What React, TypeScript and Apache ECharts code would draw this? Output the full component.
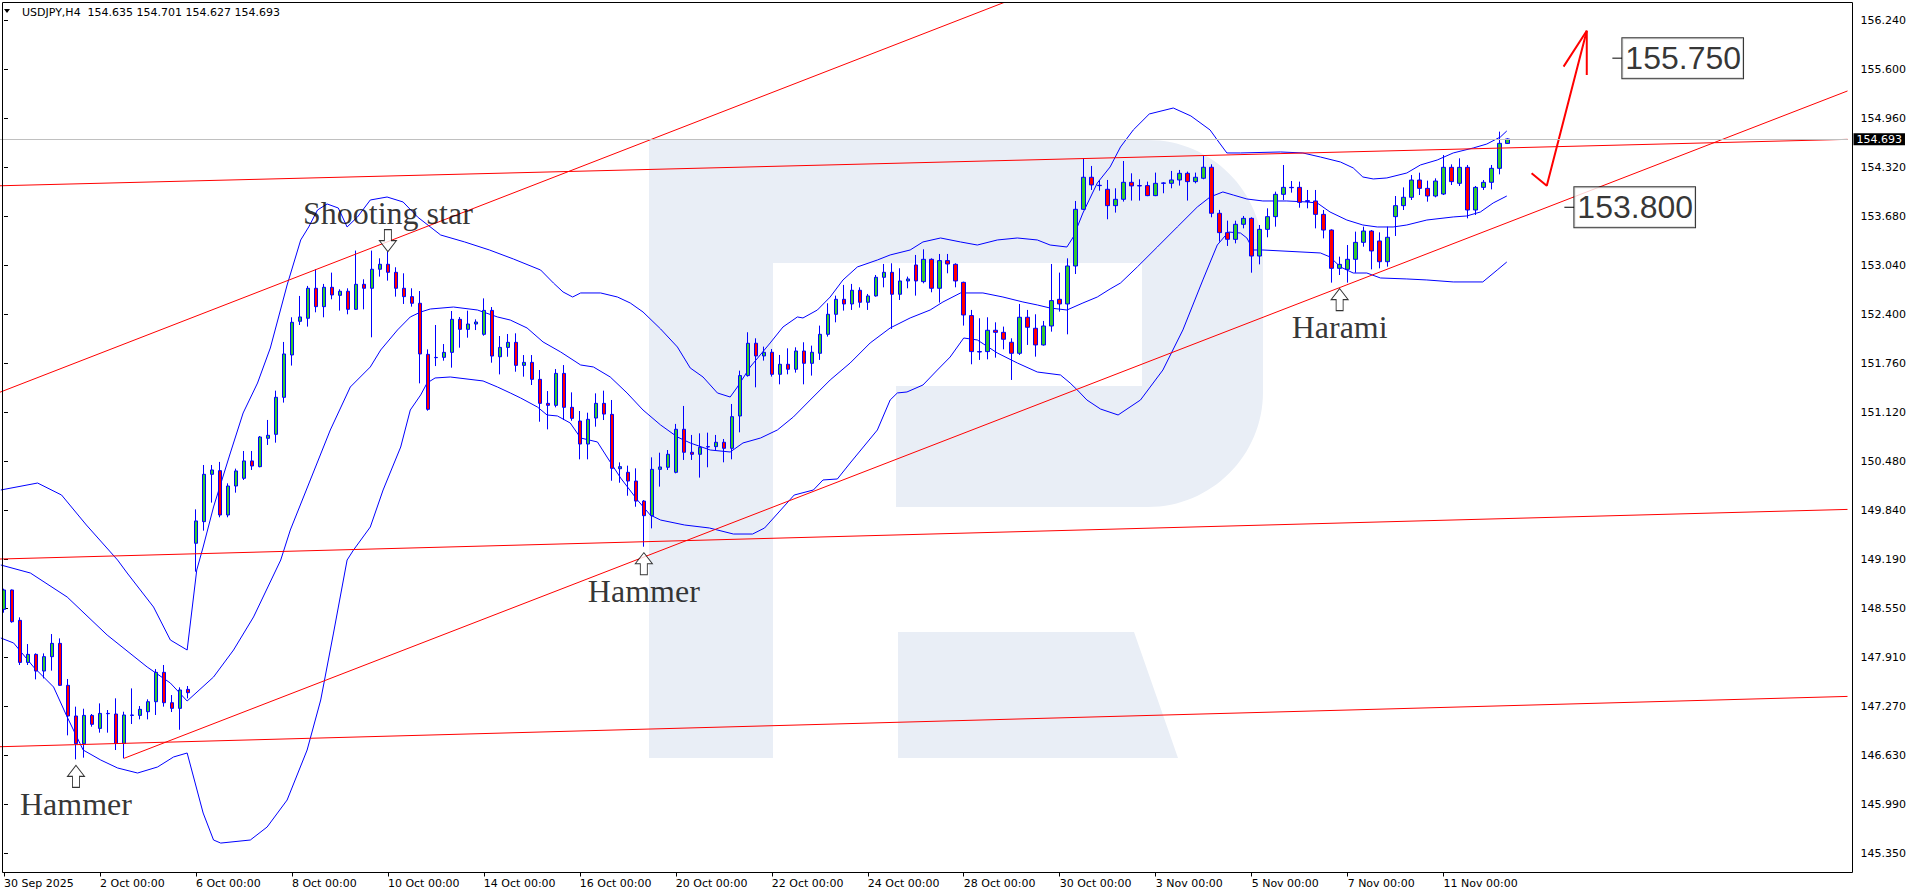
import React, { useEffect, useRef } from "react";
import * as echarts from "echarts";

// ---------------- DATA ----------------
const symbolName = "USDJPY,H4";
const lastBar = { open: 154.635, high: 154.701, low: 154.627, close: 154.693 };

const timeLabels = [
  "30 Sep 2025", "2 Oct 00:00", "6 Oct 00:00", "8 Oct 00:00", "10 Oct 00:00",
  "14 Oct 00:00", "16 Oct 00:00", "20 Oct 00:00", "22 Oct 00:00", "24 Oct 00:00",
  "28 Oct 00:00", "30 Oct 00:00", "3 Nov 00:00", "5 Nov 00:00", "7 Nov 00:00", "11 Nov 00:00",
];
const barsPerLabel = 12;
const slotCount = 231;

const priceTicks = [
  145.35, 145.99, 146.63, 147.27, 147.91, 148.55, 149.19, 149.84, 150.48,
  151.12, 151.76, 152.4, 153.04, 153.68, 154.32, 154.96, 155.6, 156.24,
];
const priceMin = 145.099;
const priceMax = 156.478;

// [open, high, low, close]
const ohlc: number[][] = [
  [148.541, 148.811, 148.497, 148.794], [148.794, 148.8, 148.366, 148.379], [148.397, 148.436, 147.813, 147.847],
  [147.847, 148.087, 147.813, 147.952], [147.952, 147.965, 147.625, 147.734], [147.734, 147.965, 147.638, 147.922],
  [147.922, 148.218, 147.739, 148.096], [148.096, 148.161, 147.54, 147.547], [147.547, 147.63, 146.893, 147.146],
  [147.146, 147.268, 146.579, 146.784], [146.784, 147.241, 146.601, 147.154], [147.154, 147.172, 147.006, 147.037],
  [146.984, 147.311, 146.928, 147.18], [147.176, 147.224, 146.928, 147.18], [147.172, 147.377, 146.701, 146.788],
  [146.788, 147.202, 146.592, 147.159], [147.154, 147.507, 147.041, 147.159], [147.154, 147.276, 147.102, 147.233],
  [147.202, 147.364, 147.102, 147.333], [147.333, 147.76, 147.159, 147.717], [147.717, 147.813, 147.268, 147.32],
  [147.32, 147.42, 147.198, 147.246], [147.246, 147.521, 146.966, 147.486], [147.494, 147.538, 147.377, 147.451],
  [149.405, 149.849, 149.034, 149.697], [149.688, 150.429, 149.57, 150.307], [150.307, 150.429, 149.937, 150.364],
  [150.355, 150.469, 149.745, 149.775], [149.775, 150.189, 149.745, 150.154], [150.154, 150.381, 150.067, 150.351],
  [150.255, 150.612, 150.233, 150.482], [150.482, 150.612, 150.364, 150.416], [150.407, 150.808, 150.399, 150.795],
  [150.778, 151.018, 150.691, 150.817], [150.83, 151.401, 150.721, 151.314], [151.314, 152.038, 151.245, 151.881],
  [151.868, 152.361, 151.729, 152.295], [152.308, 152.64, 152.26, 152.365], [152.348, 152.771, 152.239, 152.74],
  [152.74, 152.989, 152.426, 152.5], [152.5, 152.797, 152.361, 152.753], [152.753, 152.945, 152.596, 152.653],
  [152.648, 152.727, 152.448, 152.701], [152.701, 152.74, 152.4, 152.465], [152.465, 153.233, 152.457, 152.792],
  [152.792, 152.858, 152.465, 152.74], [152.74, 153.233, 152.099, 152.989], [152.989, 153.132, 152.893, 153.054],
  [153.054, 153.22, 152.84, 152.949], [152.949, 153.015, 152.631, 152.74], [152.74, 152.936, 152.535, 152.631],
  [152.631, 152.74, 152.5, 152.544], [152.544, 152.704, 151.497, 151.881], [151.876, 151.941, 151.139, 151.157],
  [151.833, 152.26, 151.723, 151.836], [151.837, 152.011, 151.793, 151.902], [151.902, 152.443, 151.702, 152.334],
  [152.334, 152.364, 151.963, 152.203], [152.203, 152.447, 152.094, 152.273], [152.273, 152.334, 152.194, 152.299],
  [152.138, 152.608, 152.12, 152.451], [152.451, 152.495, 151.767, 151.854], [151.845, 152.116, 151.614, 151.967],
  [151.967, 152.142, 151.845, 152.033], [152.033, 152.151, 151.649, 151.732], [151.732, 151.867, 151.584, 151.771],
  [151.771, 151.867, 151.475, 151.549], [151.549, 151.671, 150.995, 151.235], [151.235, 151.396, 150.895, 151.209],
  [151.209, 151.684, 151.183, 151.627], [151.627, 151.736, 151.017, 151.183], [151.183, 151.379, 151.008, 151.039],
  [151.004, 151.135, 150.503, 150.703], [150.703, 151.113, 150.503, 151.026], [151.043, 151.366, 150.93, 151.235],
  [151.235, 151.401, 151.017, 151.095], [151.091, 151.279, 150.223, 150.385], [150.38, 150.463, 150.197, 150.407],
  [150.333, 150.42, 150.027, 150.219], [150.219, 150.385, 149.883, 149.957], [149.957, 149.97, 149.36, 149.766],
  [149.766, 150.529, 149.6, 150.372], [150.372, 150.59, 150.146, 150.403], [150.399, 150.625, 150.364, 150.569],
  [150.333, 150.966, 150.32, 150.896], [150.896, 151.201, 150.495, 150.595], [150.595, 150.822, 150.495, 150.569],
  [150.569, 150.843, 150.264, 150.66], [150.665, 150.852, 150.399, 150.669], [150.669, 150.822, 150.625, 150.726],
  [150.726, 150.769, 150.464, 150.647], [150.647, 151.227, 150.503, 151.061], [151.07, 151.663, 150.856, 151.598],
  [151.598, 152.165, 151.585, 152.021], [152.021, 152.086, 151.445, 151.855], [151.855, 151.977, 151.794, 151.903],
  [151.903, 151.946, 151.585, 151.615], [151.615, 151.868, 151.484, 151.746], [151.746, 151.955, 151.615, 151.681],
  [151.681, 151.968, 151.637, 151.92], [151.92, 152.034, 151.484, 151.759], [151.759, 151.99, 151.598, 151.903],
  [151.89, 152.252, 151.803, 152.138], [152.138, 152.544, 152.108, 152.4], [152.4, 152.644, 152.295, 152.596],
  [152.596, 152.784, 152.448, 152.535], [152.535, 152.797, 152.457, 152.714], [152.714, 152.753, 152.487, 152.557],
  [152.557, 152.666, 152.457, 152.64], [152.64, 152.914, 152.631, 152.884], [152.884, 153.058, 152.753, 152.949],
  [152.949, 153.067, 152.208, 152.662], [152.662, 153.002, 152.587, 152.836], [152.836, 152.893, 152.74, 152.862],
  [153.045, 153.176, 152.644, 152.836], [152.827, 153.25, 152.805, 153.119], [153.119, 153.132, 152.688, 152.74],
  [152.74, 153.189, 152.553, 153.102], [153.102, 153.189, 152.936, 153.058], [153.054, 153.067, 152.753, 152.836],
  [152.818, 152.827, 152.252, 152.391], [152.383, 152.457, 151.746, 151.912], [151.912, 152.348, 151.803, 151.907],
  [151.912, 152.361, 151.811, 152.191], [152.191, 152.295, 151.833, 152.164], [152.164, 152.239, 151.942, 152.073],
  [152.034, 152.086, 151.541, 151.89], [151.89, 152.535, 151.868, 152.361], [152.361, 152.457, 151.999, 152.23],
  [152.217, 152.4, 151.846, 151.999], [151.999, 152.313, 151.99, 152.247], [152.247, 153.058, 152.173, 152.579],
  [152.596, 152.945, 152.435, 152.535], [152.535, 153.132, 152.138, 153.032], [153.032, 153.882, 152.927, 153.773],
  [153.773, 154.44, 153.765, 154.192], [154.192, 154.34, 154.026, 154.092], [154.087, 154.157, 154.017, 154.083],
  [154.035, 154.157, 153.643, 153.821], [153.821, 154.048, 153.73, 153.904], [153.904, 154.405, 153.874, 154.126],
  [154.126, 154.244, 153.887, 154.079], [154.083, 154.166, 153.887, 154.079], [154.083, 154.135, 153.945, 153.952],
  [153.952, 154.253, 153.945, 154.113], [154.113, 154.127, 153.983, 154.118], [154.113, 154.275, 154.048, 154.157],
  [154.157, 154.288, 154.083, 154.244], [154.244, 154.266, 153.887, 154.135], [154.135, 154.253, 154.113, 154.192],
  [154.179, 154.475, 154.166, 154.323], [154.323, 154.362, 153.669, 153.721], [153.721, 153.765, 153.35, 153.468],
  [153.468, 153.625, 153.294, 153.381], [153.38, 153.624, 153.328, 153.577], [153.577, 153.686, 153.524, 153.655],
  [153.655, 153.668, 152.944, 153.162], [153.162, 153.568, 153.053, 153.511], [153.511, 153.786, 153.407, 153.677],
  [153.677, 154.004, 153.546, 153.969], [153.969, 154.353, 153.895, 154.06], [154.06, 154.143, 153.991, 154.056],
  [154.06, 154.135, 153.794, 153.864], [153.886, 154.026, 153.786, 153.877], [153.882, 154.026, 153.524, 153.707],
  [153.707, 153.764, 153.393, 153.502], [153.502, 153.511, 152.814, 153.001], [153.001, 153.154, 152.914, 153.053],
  [152.988, 153.306, 152.814, 153.119], [153.119, 153.481, 152.944, 153.341], [153.341, 153.546, 153.284, 153.489],
  [153.489, 153.502, 152.988, 153.228], [153.359, 153.472, 153.001, 153.088], [153.088, 153.546, 153.023, 153.407],
  [153.677, 153.947, 153.424, 153.821], [153.821, 154.06, 153.764, 153.93], [153.93, 154.222, 153.895, 154.156],
  [154.156, 154.252, 153.96, 154.047], [154.047, 154.148, 153.873, 153.947], [153.947, 154.178, 153.93, 154.143],
  [153.973, 154.483, 153.96, 154.322], [154.322, 154.361, 154.091, 154.135], [154.113, 154.44, 154.078, 154.322],
  [154.322, 154.353, 153.655, 153.764], [153.764, 154.078, 153.699, 154.06], [154.06, 154.156, 154.026, 154.126],
  [154.126, 154.353, 154.034, 154.309], [154.309, 154.789, 154.23, 154.636],
  [lastBar.open, lastBar.high, lastBar.low, lastBar.close],
];

// Bollinger bands: [bar index, price]
const bbUpper: number[][] = [
  [-0.4, 150.102], [4.2, 150.193], [7.2, 150.036], [10.3, 149.644], [14.2, 149.186], [15.4, 149.016], [18.7, 148.571],
  [20.8, 148.14], [22.9, 148.009], [24.1, 149.055], [24.9, 149.356], [26.2, 149.88], [28.3, 150.586], [29.9, 151.109],
  [31.7, 151.501], [33.3, 151.959], [35.4, 152.783], [37.1, 153.372], [38.1, 153.542], [39.2, 153.764], [40.4, 153.843],
  [41.8, 153.79], [42.9, 153.542], [44.2, 153.673], [45.8, 153.895], [47.9, 153.934], [49.9, 153.869], [51.7, 153.673],
  [54.6, 153.437], [57.6, 153.346], [60.7, 153.241], [63.7, 153.123], [67.1, 152.979], [68.7, 152.809], [69.9, 152.692],
  [71.1, 152.626], [72.1, 152.679], [74.6, 152.679], [76.7, 152.626], [78.3, 152.548], [79.9, 152.43], [82.1, 152.208],
  [84.2, 151.972], [85.8, 151.698], [87.4, 151.58], [89.2, 151.371], [90.8, 151.318], [91.7, 151.449], [93.3, 151.711],
  [95.8, 152.025], [97.4, 152.234], [99.2, 152.365], [99.9, 152.352], [101.7, 152.456], [103.3, 152.626], [104.9, 152.849],
  [106.7, 153.019], [109.2, 153.11], [110.8, 153.176], [113.3, 153.241], [114.9, 153.346], [117.1, 153.398], [119.6, 153.346],
  [121.7, 153.306], [124.2, 153.372], [126.7, 153.398], [129.2, 153.372], [130.8, 153.306], [132.9, 153.28], [133.7, 153.411],
  [134.9, 153.725], [136.7, 154.117], [138.3, 154.327], [139.6, 154.588], [141.2, 154.811], [143.2, 155.02], [146.2, 155.098],
  [148.4, 154.994], [150.8, 154.811], [151.7, 154.68], [152.9, 154.51], [154.6, 154.51], [159.6, 154.523], [162.4, 154.51],
  [164.6, 154.457], [167.1, 154.392], [168.7, 154.314], [169.9, 154.196], [171.2, 154.17], [172.9, 154.183], [175.4, 154.248],
  [177.1, 154.353], [179.2, 154.418], [181.2, 154.51], [183.7, 154.575], [185.4, 154.627], [187.1, 154.719], [187.9, 154.798],
];
const bbMiddle: number[][] = [
  [-0.4, 149.121], [3.3, 149.016], [7.9, 148.702], [12.9, 148.205], [17.9, 147.787], [20.8, 147.577], [22.9, 147.342],
  [26.2, 147.656], [28.7, 148.009], [31.2, 148.441], [34.6, 149.186], [35.8, 149.579], [38.3, 150.233], [40.8, 150.887],
  [43.3, 151.449], [45.8, 151.711], [47.1, 151.933], [49.2, 152.195], [50.8, 152.365], [52.1, 152.43], [53.3, 152.469],
  [56.2, 152.495], [59.2, 152.456], [61.7, 152.365], [63.3, 152.325], [65.4, 152.221], [67.4, 152.038], [69.6, 151.907],
  [72.1, 151.737], [73.7, 151.711], [75.8, 151.58], [77.9, 151.371], [79.9, 151.148], [82.1, 150.952], [84.2, 150.795],
  [85.8, 150.717], [88.3, 150.625], [90.8, 150.599], [92.4, 150.717], [94.6, 150.782], [96.7, 150.887], [98.7, 151.057],
  [100.8, 151.279], [103.3, 151.541], [105.8, 151.763], [108.3, 152.025], [110.8, 152.221], [113.3, 152.352], [115.8, 152.456],
  [117.4, 152.561], [119.6, 152.679], [122.4, 152.679], [124.9, 152.626], [127.4, 152.561], [129.2, 152.522], [130.8, 152.482],
  [132.9, 152.456], [134.9, 152.548], [136.7, 152.626], [138.3, 152.731], [139.6, 152.809], [141.7, 153.019], [144.2, 153.28],
  [146.7, 153.542], [149.2, 153.803], [150.8, 153.934], [152.4, 154.0], [153.7, 153.96], [155.4, 153.908], [157.4, 153.882],
  [160.4, 153.882], [162.9, 153.869], [164.2, 153.856], [165.8, 153.738], [167.9, 153.633], [169.9, 153.568], [171.7, 153.542],
  [173.7, 153.542], [175.4, 153.568], [177.9, 153.633], [181.2, 153.673], [182.9, 153.686], [184.6, 153.738], [186.2, 153.856],
  [187.9, 153.947],
];
const bbLower: number[][] = [
  [-0.4, 148.166], [1.2, 148.101], [3.7, 147.787], [6.2, 147.525], [7.9, 147.133], [9.9, 146.701], [12.1, 146.57],
  [14.2, 146.466], [16.7, 146.4], [19.2, 146.479], [21.2, 146.61], [22.9, 146.662], [23.7, 146.348], [24.9, 145.877],
  [26.2, 145.524], [27.1, 145.484], [30.8, 145.524], [32.9, 145.694], [35.4, 146.047], [37.9, 146.701], [39.6, 147.355],
  [41.2, 148.231], [42.9, 149.186], [43.7, 149.317], [45.8, 149.618], [47.4, 150.102], [49.6, 150.664], [50.8, 151.148],
  [52.1, 151.345], [52.9, 151.501], [53.9, 151.567], [55.8, 151.58], [59.9, 151.528], [61.7, 151.449], [63.3, 151.371],
  [64.6, 151.305], [66.7, 151.187], [67.9, 151.083], [69.2, 151.07], [70.8, 150.978], [72.1, 150.782], [74.2, 150.73],
  [75.4, 150.533], [77.1, 150.259], [79.2, 149.971], [80.8, 149.775], [82.1, 149.709], [85.1, 149.644], [88.2, 149.605],
  [91.2, 149.526], [93.6, 149.526], [95.1, 149.605], [98.8, 150.036], [101.2, 150.102], [102.4, 150.233], [104.2, 150.246],
  [105.8, 150.455], [109.2, 150.887], [110.8, 151.279], [111.7, 151.371], [112.9, 151.384], [114.9, 151.475], [116.7, 151.671],
  [118.3, 151.841], [120.0, 152.09], [121.7, 152.064], [124.2, 151.894], [126.7, 151.763], [129.2, 151.645], [132.1, 151.606],
  [133.3, 151.501], [134.2, 151.41], [135.4, 151.279], [137.1, 151.161], [139.3, 151.083], [142.1, 151.279], [144.9, 151.671],
  [147.4, 152.195], [149.9, 152.849], [151.7, 153.306], [153.1, 153.476], [154.6, 153.463], [155.4, 153.398], [156.2, 153.241],
  [157.4, 153.241], [164.6, 153.202], [165.8, 153.15], [167.1, 153.019], [168.7, 152.94], [170.4, 152.94], [172.1, 152.875],
  [175.4, 152.862], [177.9, 152.849], [181.2, 152.823], [184.9, 152.823], [186.7, 152.979], [187.9, 153.084],
];

// Red trend lines: [[index, price], [index, price]]
const channelTop = [[-0.5, 151.381], [130, 156.68]];
const resistance = [[-0.5, 154.081], [230.5, 154.688]];
const levelMid = [[-0.5, 149.199], [230.5, 149.848]];
const levelLow = [[-0.5, 146.744], [230.5, 147.402]];
const risingSupport = [[15, 146.592], [230.5, 155.321]];

// Forecast arrow
const forecastPath = [[191.0, 154.244], [192.9, 154.082], [197.9, 156.109]];
const forecastHead = [[195.0, 155.639], [197.9, 156.109], [197.9, 155.53]];

// Target price labels
const targets = [
  { price: 155.75, from: 201.1, to: 202.35 },
  { price: 153.8, from: 195.1, to: 196.35 },
];

// Candle patterns
const patterns = [
  { name: "Hammer", index: 9, price: 146.579, dir: "up" },
  { name: "Shooting star", index: 48, price: 153.22, dir: "down" },
  { name: "Hammer", index: 80, price: 149.36, dir: "up" },
  { name: "Harami", index: 167, price: 152.814, dir: "up" },
];

// ---------------- STYLE ----------------
const BLUE = "#0000FF";
const RED = "#FF0000";
const GREEN = "#32C832";
const AXIS_FONT = "DejaVu Sans";
const ARROW_UP = "path://M8.5,0 L17,11 L12,11 L12,22 L5,22 L5,11 L0,11 Z";
const ARROW_DOWN = "path://M5,0 L12,0 L12,11 L17,11 L8.5,22 L0,11 L5,11 Z";

const LOGO_D =
  "M649,140 L1148,140 C1211.5,140 1263,191.5 1263,255 L1263,392 C1263,455.5 1211.5,507 1148,507 " +
  "L896,507 L896,386 L1142,386 L1142,263 L773,263 L773,758 L649,758 Z " +
  "M898,632 L1134,632 L1178,758 L898,758 Z";
echarts.graphic.registerShape("rfLogo", echarts.graphic.extendPath(LOGO_D, {}));

function lineSeries(name: string, data: number[][], color: string, width: number, z: number) {
  return {
    name,
    type: "line",
    xAxisIndex: 1,
    yAxisIndex: 0,
    data,
    symbol: "none",
    showSymbol: false,
    silent: true,
    clip: true,
    z,
    lineStyle: { color, width },
  };
}

export default function App() {
  const ref = useRef<HTMLDivElement>(null);

  useEffect(() => {
    const chart = echarts.init(ref.current as HTMLDivElement, null, { renderer: "svg" });
    const categories = Array.from({ length: slotCount }, (_, i) => String(i));
    const showLabel = (index: number) =>
      index % barsPerLabel === 0 && index / barsPerLabel < timeLabels.length;

    const option: any = {
      animation: false,
      backgroundColor: "#ffffff",
      grid: { left: -0.5, top: 2.5, width: 1848, height: 870, show: false },
      xAxis: [
        {
          type: "category",
          data: categories,
          boundaryGap: true,
          axisLine: { show: false },
          axisTick: {
            show: true,
            alignWithLabel: true,
            interval: (index: number) => showLabel(index),
            length: 4,
            lineStyle: { color: "#000", width: 1 },
          },
          axisLabel: {
            interval: (index: number) => showLabel(index),
            formatter: (_v: string, index: number) =>
              showLabel(index) ? timeLabels[index / barsPerLabel] : "",
            align: "left",
            margin: 5,
            color: "#000",
            fontFamily: AXIS_FONT,
            fontSize: 11,
          },
          splitLine: { show: false },
        },
        { type: "value", min: -0.5, max: slotCount - 0.5, show: false },
      ],
      yAxis: {
        type: "value",
        position: "right",
        offset: 5,
        min: priceMin,
        max: priceMax,
        axisLine: { show: false },
        splitLine: { show: false },
        axisTick: {
          show: true,
          customValues: priceTicks,
          length: 4,
          lineStyle: { color: "#000", width: 1 },
        },
        axisLabel: {
          customValues: priceTicks,
          formatter: (v: number) => v.toFixed(3),
          margin: 8,
          color: "#000",
          fontFamily: AXIS_FONT,
          fontSize: 11,
        },
      },
      graphic: [
        { type: "rfLogo", x: 0, y: 0, silent: true, z: 0, style: { fill: "#E9EEF6" } },
        {
          type: "rect",
          silent: true,
          z: 100,
          shape: { x: 2.5, y: 2.5, width: 1850, height: 870 },
          style: { fill: "none", stroke: "#000", lineWidth: 1 },
        },
        {
          type: "polygon",
          silent: true,
          z: 100,
          shape: { points: [[4, 9], [10, 9], [7, 13]] },
          style: { fill: "#000" },
        },
        {
          type: "text",
          silent: true,
          z: 100,
          x: 22,
          y: 12.5,
          style: {
            text:
              symbolName + "\u00a0\u00a0" +
              [lastBar.open, lastBar.high, lastBar.low, lastBar.close].map((v) => v.toFixed(3)).join(" "),
            font: "11px 'DejaVu Sans'",
            fill: "#000",
            verticalAlign: "middle",
            align: "left",
          },
        },
      ],
      series: [
        lineSeries("BB upper", bbUpper, BLUE, 1, 1),
        lineSeries("BB middle", bbMiddle, BLUE, 1, 1),
        lineSeries("BB lower", bbLower, BLUE, 1, 1),
        {
          name: symbolName,
          type: "candlestick",
          xAxisIndex: 0,
          yAxisIndex: 0,
          barWidth: 4,
          z: 2,
          silent: true,
          data: ohlc.map(([o, h, l, c]) => [o, c, l, h]),
          itemStyle: {
            color: GREEN,
            color0: RED,
            borderColor: BLUE,
            borderColor0: BLUE,
            borderWidth: 1,
          },
          markLine: {
            silent: true,
            symbol: ["none", "none"],
            animation: false,
            data: [{ yAxis: lastBar.close }],
            lineStyle: { color: "#C0C0C0", width: 1, type: "solid" },
            label: {
              show: true,
              position: "end",
              distance: 6,
              formatter: lastBar.close.toFixed(3),
              backgroundColor: "#000",
              color: "#fff",
              padding: [1, 3, 0, 3],
              fontFamily: AXIS_FONT,
              fontSize: 11,
            },
          },
        },
        lineSeries("Channel top", channelTop, RED, 1, 3),
        lineSeries("Resistance", resistance, RED, 1, 3),
        lineSeries("Level mid", levelMid, RED, 1, 3),
        lineSeries("Level low", levelLow, RED, 1, 3),
        lineSeries("Rising support", risingSupport, RED, 1, 3),
        lineSeries("Forecast", forecastPath, RED, 2, 4),
        lineSeries("Forecast head", forecastHead, RED, 2, 4),
        ...targets.map((t) =>
          lineSeries("Target tick " + t.price, [[t.from, t.price], [t.to, t.price]], "#000", 1, 4)
        ),
        {
          name: "Targets",
          type: "scatter",
          xAxisIndex: 1,
          yAxisIndex: 0,
          silent: true,
          z: 5,
          symbolSize: 0,
          data: targets.map((t) => [t.to, t.price]),
          label: {
            show: true,
            position: "right",
            distance: 0,
            formatter: (p: any) => p.value[1].toFixed(3),
            backgroundColor: "#fff",
            borderColor: "#000",
            borderWidth: 1,
            padding: [2, 2, 2, 3],
            color: "#000",
            fontFamily: "Liberation Sans",
            fontSize: 32,
            lineHeight: 36,
          },
        },
        {
          name: "Patterns",
          type: "scatter",
          xAxisIndex: 1,
          yAxisIndex: 0,
          silent: true,
          z: 5,
          symbolSize: [17, 22],
          itemStyle: { color: "#fff", borderColor: "#000", borderWidth: 1 },
          data: patterns.map((p) => ({
            value: [p.index, p.price],
            symbol: p.dir === "up" ? ARROW_UP : ARROW_DOWN,
            symbolOffset: [0, p.dir === "up" ? 17 : -11],
            label: {
              show: true,
              position: p.dir === "up" ? "bottom" : "top",
              distance: 0,
              formatter: p.name,
              color: "#000",
              fontFamily: "Liberation Serif",
              fontSize: 32,
              lineHeight: 32,
            },
          })),
        },
      ],
    };

    chart.setOption(option);
    return () => chart.dispose();
  }, []);

  return (
    <div
      ref={ref}
      style={{ position: "fixed", left: 0, top: 0, width: 1916, height: 896, background: "#fff" }}
    />
  );
}
